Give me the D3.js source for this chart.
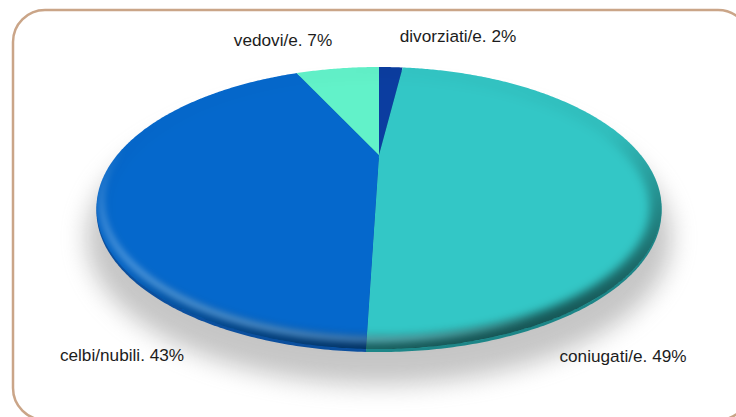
<!DOCTYPE html>
<html>
<head>
<meta charset="utf-8">
<script src="https://cdn.jsdelivr.net/npm/d3@7"></script>
<style>
  html, body { margin: 0; padding: 0; background: #ffffff; }
  svg { display: block; }
  text { font-family: "Liberation Sans", Arial, sans-serif; fill: #1c1c1c; }
</style>
</head>
<body>
<svg id="chart" width="736" height="417"></svg>
<script>
// Stato civile: share of each group
const categories = ["divorziati/e", "coniugati/e", "celbi/nubili", "vedovi/e"];
const values = [2, 49, 43, 7];
const sliceColors = ["#0b3da0", "#33c7c6", "#0568cc", "#62f2c9"];
const sideColors = ["#0a2d78", "#1d8688", "#0b4f9e", "#45b89a"];

// label anchors (text-anchor middle, baseline)
const labelAnchors = [[458, 42], [623, 362], [122, 361], [283, 46]];

const W = 736, H = 417;
const svg = d3.select("#chart");

// perspective view of the pie disc
const view = { cx: 379, cy: 155, a: 261.8, b: 121.1, k: 0.376 };
function project(theta, r, dy = 0) {
  const u = r * Math.sin(theta), v = -r * Math.cos(theta);
  const w = 1 - view.k * v;
  return [view.cx + view.a * u / w, view.cy + view.b * v / w + dy];
}

const pie = d3.pie().sort(null).value(d => d);
const arcs = pie(values);
const line = d3.line().curve(d3.curveLinear);

function slicePath(d, dy = 0) {
  const n = Math.max(4, Math.ceil((d.endAngle - d.startAngle) / 0.01));
  const pts = [project(0, 0, dy)];
  for (let i = 0; i <= n; i++) {
    pts.push(project(d.startAngle + (d.endAngle - d.startAngle) * i / n, 1, dy));
  }
  return line(pts) + "Z";
}
function outlinePath(dy = 0, r = 1) {
  const pts = d3.range(0, 721).map(i => project(i / 720 * 2 * Math.PI, r, dy));
  return line(pts) + "Z";
}

const defs = svg.append("defs");
defs.append("filter").attr("id", "shadowBlur")
  .attr("x", "-20%").attr("y", "-30%").attr("width", "140%").attr("height", "160%")
  .append("feGaussianBlur").attr("stdDeviation", 12);
defs.append("filter").attr("id", "bevelBlur")
  .attr("x", "-10%").attr("y", "-10%").attr("width", "120%").attr("height", "120%")
  .append("feGaussianBlur").attr("stdDeviation", 5);
defs.append("filter").attr("id", "glowBlur")
  .attr("x", "-10%").attr("y", "-10%").attr("width", "120%").attr("height", "120%")
  .append("feGaussianBlur").attr("stdDeviation", 3);
defs.append("clipPath").attr("id", "discClip")
  .append("path").attr("d", outlinePath(0));

const darkGrad = defs.append("linearGradient").attr("id", "darkRim")
  .attr("x1", "0.15").attr("y1", "0").attr("x2", "0.7").attr("y2", "1");
darkGrad.append("stop").attr("offset", "0").attr("stop-color", "#000").attr("stop-opacity", 0);
darkGrad.append("stop").attr("offset", "0.5").attr("stop-color", "#000").attr("stop-opacity", 0.05);
darkGrad.append("stop").attr("offset", "1").attr("stop-color", "#000").attr("stop-opacity", 0.6);

const lightGrad = defs.append("linearGradient").attr("id", "lightRim")
  .attr("x1", "0.75").attr("y1", "0.2").attr("x2", "0.15").attr("y2", "0.95");
lightGrad.append("stop").attr("offset", "0").attr("stop-color", "#fff").attr("stop-opacity", 0);
lightGrad.append("stop").attr("offset", "0.55").attr("stop-color", "#fff").attr("stop-opacity", 0);
lightGrad.append("stop").attr("offset", "1").attr("stop-color", "#9fd8ff").attr("stop-opacity", 0.55);

// soft ground shadow
svg.append("path")
  .attr("d", outlinePath(26, 1.03))
  .attr("fill", "#8c8c8c")
  .attr("opacity", 0.5)
  .attr("filter", "url(#shadowBlur)");

// disc thickness
svg.append("g").selectAll("path")
  .data(arcs).join("path")
  .attr("d", d => slicePath(d, 3))
  .attr("fill", (d, i) => sideColors[i]);

// top surface
svg.append("g").selectAll("path")
  .data(arcs).join("path")
  .attr("d", d => slicePath(d, 0))
  .attr("fill", (d, i) => sliceColors[i]);

// rounded edge shading
const bevel = svg.append("g").attr("clip-path", "url(#discClip)");
bevel.append("path")
  .attr("d", outlinePath(0))
  .attr("fill", "none")
  .attr("stroke", "url(#darkRim)")
  .attr("stroke-width", 24)
  .attr("filter", "url(#bevelBlur)");
bevel.append("path")
  .attr("d", outlinePath(-5, 0.985))
  .attr("fill", "none")
  .attr("stroke", "url(#lightRim)")
  .attr("stroke-width", 6)
  .attr("filter", "url(#glowBlur)");

// labels
svg.append("g").selectAll("text")
  .data(arcs).join("text")
  .attr("x", (d, i) => labelAnchors[i][0])
  .attr("y", (d, i) => labelAnchors[i][1])
  .attr("text-anchor", "middle")
  .attr("font-size", 17.2)
  .text((d, i) => `${categories[i]}. ${values[i]}%`);

// rounded frame
svg.append("rect")
  .attr("x", 13).attr("y", 10)
  .attr("width", 737).attr("height", 410)
  .attr("rx", 32).attr("ry", 32)
  .attr("fill", "none")
  .attr("stroke", "#caa588")
  .attr("stroke-width", 2.5);
</script>
</body>
</html>
